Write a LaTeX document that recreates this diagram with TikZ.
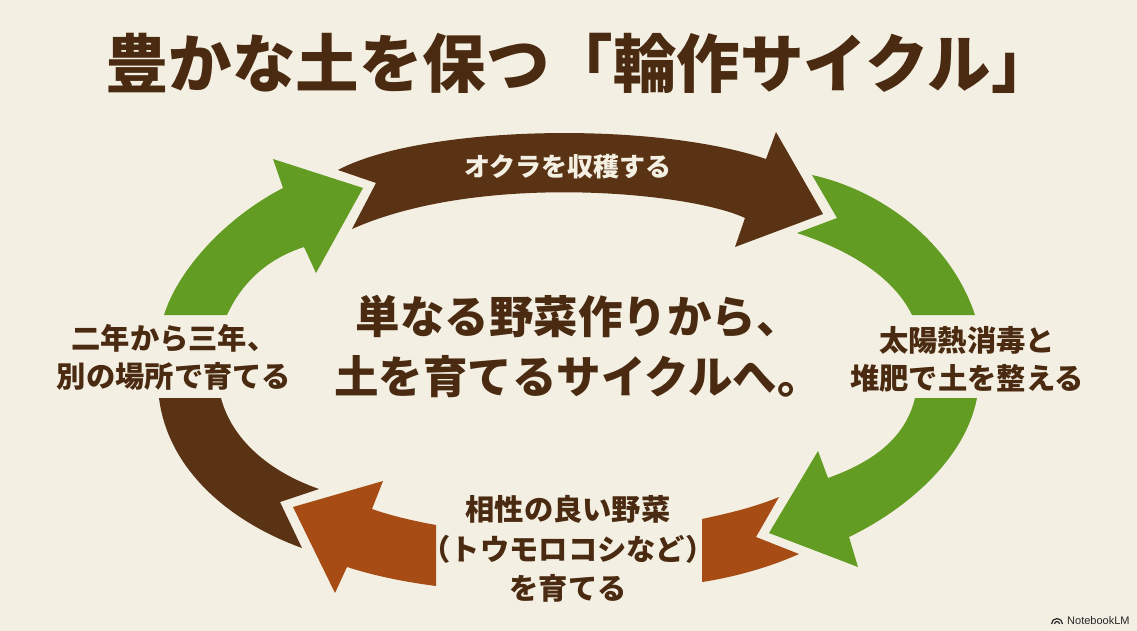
\documentclass[tikz,border=0pt]{standalone}
\usepackage{fontspec}
\setmainfont{Noto Sans CJK JP}[BoldFont={Noto Sans CJK JP Black}]
\newfontfamily\logofont{Liberation Sans}
\definecolor{bgc}{HTML}{F3F0E3}
\definecolor{greenc}{HTML}{629C22}
\definecolor{brownc}{HTML}{5A3214}
\definecolor{orangec}{HTML}{A64C14}
\definecolor{inkc}{HTML}{4A2A10}
\tikzset{
  arrowshape/.style={line join=miter},
  lbl/.style={text=inkc,align=center,font=\bfseries\fontsize{29.3}{38}\selectfont,inner sep=0pt},
}
\begin{document}
\begin{tikzpicture}[x=1pt,y=-1pt]
\useasboundingbox (0,0) rectangle (1137,631);
\fill[bgc] (0,0) rectangle (1137,631);
% green, left
\fill[greenc,arrowshape] (164,315) .. controls (178,270) and (225,218) .. (283,188) -- (273,159) -- (363,188) -- (316,273) -- (304,247) .. controls (270,258) and (243,280) .. (227,315) -- cycle;
% brown, top
\fill[brownc,arrowshape] (338,170) .. controls (420,126) and (650,120) .. (766,159) -- (776,132) -- (823,214) -- (735,247) -- (745,218) .. controls (690,192) and (480,172) .. (352,229) -- (376,183) -- cycle;
% green, upper right
\fill[greenc,arrowshape] (812,175) .. controls (880,190) and (950,240) .. (975,315) -- (912,315) .. controls (895,280) and (855,252) .. (797,233) -- (837,218) -- cycle;
% green, lower right
\fill[greenc,arrowshape] (977,398) .. controls (965,460) and (905,510) .. (849,537) -- (858,567) -- (769,533) -- (818,451) -- (828,478) .. controls (870,463) and (905,440) .. (915,398) -- cycle;
% orange, right
\fill[orangec,arrowshape] (702,519) .. controls (730,513) and (755,507) .. (779,497) -- (756,537) -- (799,554) .. controls (770,567) and (735,577) .. (702,582) -- cycle;
% orange, left
\fill[orangec,arrowshape] (436,525) .. controls (414,521) and (392,516) .. (372,509) -- (383,481) -- (293,507) -- (335,593) -- (347,567) .. controls (375,576) and (405,582) .. (436,586) -- cycle;
% brown, left
\fill[brownc,arrowshape] (159,398) .. controls (168,470) and (230,522) .. (302,548) -- (280,502) -- (319,489) .. controls (270,472) and (232,440) .. (221,398) -- cycle;
% texts
\node[text=inkc,inner sep=0pt,anchor=west,font=\bfseries\fontsize{63.5}{70}\selectfont] (title) at (105,63) {豊かな土を保つ「輪作サイクル」};
\node[lbl,font=\bfseries\fontsize{44.5}{60}\selectfont] (centre) at (578,346) {単なる野菜作りから、\\土を育てるサイクルへ。};
\node[lbl,text=bgc,font=\bfseries\fontsize{26}{30}\selectfont] (harvest) at (568,167) {オクラを収穫する};
\node[lbl] (rightlbl) at (967,359) {太陽熱消毒と\\堆肥で土を整える};
\node[lbl] (leftlbl) at (174,357) {二年から三年、\\別の場所で育てる};
\node[lbl,font=\bfseries\fontsize{29.3}{39.5}\selectfont] (bottomlbl) at (568,549) {相性の良い野菜\\（トウモロコシなど）\\を育てる};
\node[inner sep=0pt,anchor=west,text=black!85,font=\logofont\fontsize{11}{12}\selectfont] (logo) at (1067,620.5) {NotebookLM};
\draw[black!85,line width=1.2pt] (1051.5,624) arc[start angle=180,end angle=360,radius=5.5];
\draw[black!85,line width=1.2pt] (1054.5,624) arc[start angle=180,end angle=360,radius=2.5];
\end{tikzpicture}
\end{document}
